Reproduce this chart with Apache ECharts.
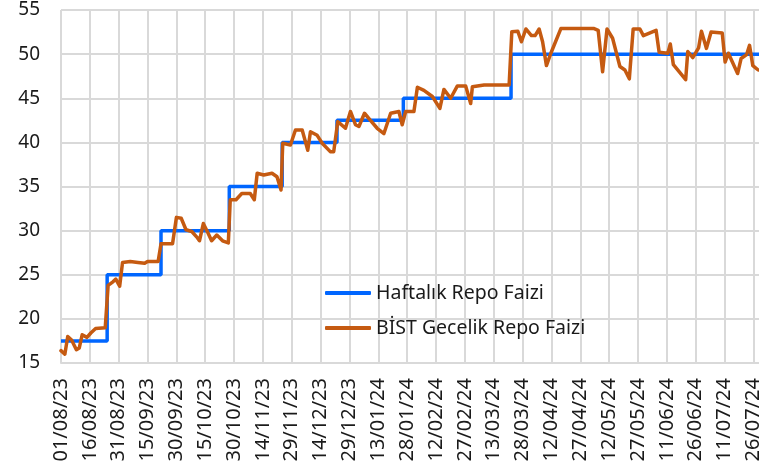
<!DOCTYPE html>
<html>
<head>
<meta charset="utf-8">
<script src="https://cdn.jsdelivr.net/npm/echarts@6/dist/echarts.min.js"></script>
<style>
	html, body { margin:0; padding:0; background:#fff; }
	#chart { width:759px; height:472px; }
</style>
</head>
<body>
<div id="chart"></div>
<script>
	// gün sayısı: 01/08/23 = 0
	var startDate = new Date(2023, 7, 1);
	var seriesNames = ['Haftalık Repo Faizi', 'BİST Gecelik Repo Faizi'];

	// politika faizi değişim günleri ve oranları
	var policyDays  = [0, 24, 52, 87.5, 115, 143.5, 178, 234, 365];
	var policyRates = [17.5, 25, 30, 35, 40, 42.5, 45, 50, 50];

	// BİST gecelik repo
	var bistDays = [0, 2, 3.5, 5.5, 8, 9.5, 11, 13.5, 15.5, 18, 23, 24, 24.5, 27, 28.5, 30.5, 32, 36, 40, 43.5, 45, 50.5,
		52, 58, 60, 62.5, 65, 68, 70.5, 72, 74, 76.5, 78.3, 81, 84, 87, 88, 91, 94, 98.4, 100.5, 102, 105.4, 109.7, 112.3,
		114.4, 115.3, 119.3, 121.9, 125.4, 128.3, 129.7, 133.2, 135.8, 140, 141.8, 143.9, 147.9, 150.5, 153.1, 154.9, 157.8,
		160.9, 164.4, 167.9, 171.4, 175.7, 177.4, 179.2, 183.5, 185.3, 188.7, 193.1, 197, 199.1, 202.6, 206.1, 210.4, 213,
		213.9, 220, 233, 234.4, 237.5, 239.4, 241.7, 244.6, 246.5, 248.6, 250.4, 252.4, 254.7, 259.9, 277.2, 279.3, 281.6,
		283.9, 286.8, 290.6, 293.2, 295.5, 297.5, 301, 302.8, 309.4, 311, 315.5, 316.8, 318.4, 324.8, 325.9, 328.5, 331.5,
		333, 335.6, 338, 343.8, 345.3, 347, 351.8, 353.6, 356.5, 358, 359.7, 362.5];
	var bistRates = [16.4, 16.0, 18.0, 17.6, 16.5, 16.7, 18.2, 17.9, 18.4, 18.9, 19.0, 19.0, 23.8, 24.2, 24.5, 23.7, 26.4, 26.5, 26.4, 26.3, 26.5, 26.5,
		28.5, 28.5, 31.5, 31.4, 30.1, 29.9, 29.3, 28.85, 30.8, 29.7, 28.85, 29.5, 28.85, 28.6, 33.5, 33.5, 34.2, 34.2, 33.5, 36.5, 36.3, 36.5, 36.1,
		34.6, 39.9, 39.7, 41.4, 41.4, 39.1, 41.2, 40.8, 39.9, 38.95, 38.95, 42.35, 41.6, 43.5, 42.0, 41.8, 43.3,
		42.5, 41.6, 41.0, 43.3, 43.5, 42.0, 43.5, 43.5, 46.25, 45.9, 45.2, 43.85, 46.0, 45.0, 46.4, 46.4, 44.4,
		46.3, 46.5, 46.5, 52.55, 52.6, 51.4, 52.85, 52.1, 52.1, 52.85, 51.4, 48.7, 50.1, 52.9, 52.9, 52.7, 48.0,
		52.85, 51.8, 48.6, 48.2, 47.2, 52.85, 52.85, 52.1, 52.7, 50.2, 50.1, 51.15, 48.8, 47.1, 50.3, 49.6, 50.7,
		52.6, 50.65, 52.5, 52.4, 49.1, 50.1, 47.8, 49.5, 49.95, 51.0, 48.7, 48.2];

	function pairs(xs, ys){
		var out = [];
		for(var i=0,len=xs.length;i<len;i++){
			out.push([xs[i], ys[i]]);
		}
		return out;
	}
	function pad(n){ return (n<10?'0':'')+n; }
	function dayLabel(v){
		var d = new Date(startDate.getFullYear(), startDate.getMonth(), startDate.getDate()+Math.round(v));
		return pad(d.getDate())+'/'+pad(d.getMonth()+1)+'/'+String(d.getFullYear()).slice(2);
	}

	var FONT = 'Noto Sans';
	var gridColor = '#d9d9d9';
	var chart = echarts.init(document.getElementById('chart'), null, {renderer:'canvas'});
	chart.setOption({
		animation: false,
		grid: { left:61, right:-4, top:10, bottom:109, containLabel:false, outerBoundsMode:'none' },
		legend: {
			orient:'vertical', left:320, top:278,
			icon:'roundRect', itemWidth:46, itemHeight:4, itemGap:15,
			textStyle:{ fontFamily:FONT, fontSize:19.5, color:'#1a1a1a' },
			data: seriesNames,
		},
		xAxis: {
			type:'value', min:0, max:365, interval:15,
			axisLine:{ show:true, lineStyle:{ color:gridColor, width:2 } },
			axisTick:{ show:false },
			splitLine:{ show:true, lineStyle:{ color:gridColor, width:2 } },
			axisLabel:{
				rotate:90, margin:15, showMaxLabel:false,
				fontFamily:FONT, fontSize:20, color:'#1a1a1a',
				formatter: dayLabel,
			},
		},
		yAxis: {
			type:'value', min:15, max:55, interval:5,
			axisLine:{ show:false },
			axisTick:{ show:false },
			splitLine:{ show:true, lineStyle:{ color:gridColor, width:2 } },
			axisLabel:{ margin:21, fontFamily:FONT, fontSize:19, color:'#1a1a1a' },
		},
		series: [
			{
				name: seriesNames[0], type:'line', step:'end', symbol:'none',
				lineStyle:{ color:'#0066ff', width:3.5 }, itemStyle:{ color:'#0066ff' },
				data: pairs(policyDays, policyRates),
			},
			{
				name: seriesNames[1], type:'line', symbol:'none',
				lineStyle:{ color:'#c55a11', width:3.5, join:'round', cap:'round' }, itemStyle:{ color:'#c55a11' },
				data: pairs(bistDays, bistRates),
			},
		]
	});
</script>
</body>
</html>
